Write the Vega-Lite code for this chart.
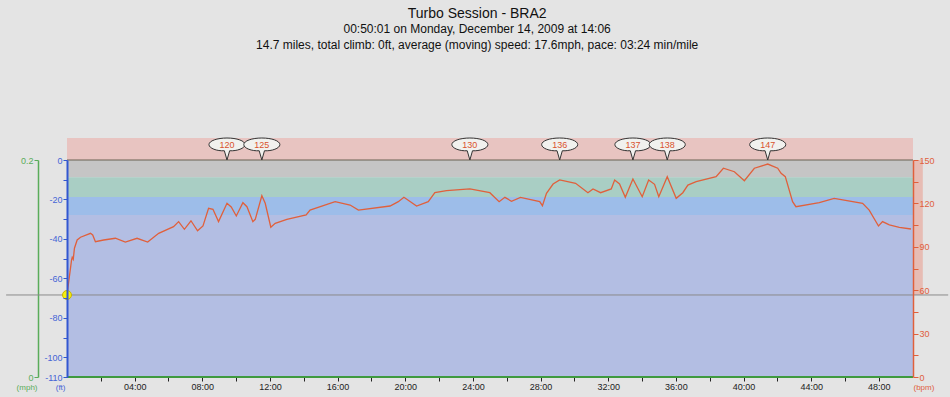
{
  "$schema": "https://vega.github.io/schema/vega-lite/v6.json",
  "width": 846,
  "height": 217,
  "autosize": {"type": "none"},
  "padding": {"left": 67, "top": 160, "right": 37, "bottom": 20},
  "background": "#e4e4e4",
  "config": {"view": {"stroke": null}, "font": "Liberation Sans"},
  "title": {
    "text": "Turbo Session - BRA2",
    "subtitle": ["00:50:01 on Monday, December 14, 2009 at 14:06", "14.7 miles, total climb: 0ft, average (moving) speed: 17.6mph, pace: 03:24 min/mile"],
    "anchor": "middle",
    "frame": "bounds",
    "fontSize": 14,
    "fontWeight": "normal",
    "color": "#111111",
    "subtitleFontSize": 12,
    "subtitleColor": "#111111",
    "subtitlePadding": 3,
    "subtitleLineHeight": 16,
    "offset": 85
  },
  "datasets": {
    "zones": [
      {"zone": "above", "lo": 150, "hi": 165.2},
      {"zone": "z4", "lo": 138, "hi": 150},
      {"zone": "z3", "lo": 124.4, "hi": 138},
      {"zone": "z2", "lo": 112, "hi": 124.4},
      {"zone": "z1", "lo": 0, "hi": 112}
    ],
    "hrrange": [{"lo": 56.7, "hi": 150}],
    "elev": [{"t": 0, "ft": 0}, {"t": 50.02, "ft": 0}],
    "speed": [{"t": 0, "mph": 0}, {"t": 50.02, "mph": 0}],
    "marker": [{"t": 0, "hr": 56.7}],
    "bubbles": [
      {"t": 9.46, "hr": 120}, {"t": 11.52, "hr": 125}, {"t": 23.82, "hr": 130},
      {"t": 29.13, "hr": 136}, {"t": 33.46, "hr": 137}, {"t": 35.49, "hr": 138}, {"t": 41.43, "hr": 147}
    ],
    "hr": [
      {"t": 0.0, "hr": 56.7}, {"t": 0.27, "hr": 80.9}, {"t": 0.31, "hr": 82.7}, {"t": 0.37, "hr": 81.4},
      {"t": 0.44, "hr": 89.0}, {"t": 0.6, "hr": 94.7}, {"t": 0.8, "hr": 96.6}, {"t": 1.39, "hr": 99.3},
      {"t": 1.52, "hr": 98.2}, {"t": 1.68, "hr": 93.5}, {"t": 2.17, "hr": 94.7}, {"t": 2.86, "hr": 95.9},
      {"t": 3.45, "hr": 93.3}, {"t": 4.14, "hr": 95.9}, {"t": 4.77, "hr": 93.3}, {"t": 5.42, "hr": 99.3},
      {"t": 6.3, "hr": 103.9}, {"t": 6.6, "hr": 107.4}, {"t": 6.94, "hr": 102.1}, {"t": 7.33, "hr": 108.0},
      {"t": 7.72, "hr": 101.1}, {"t": 8.04, "hr": 104.4}, {"t": 8.37, "hr": 116.6}, {"t": 8.63, "hr": 115.9},
      {"t": 8.96, "hr": 107.4}, {"t": 9.46, "hr": 120.1}, {"t": 9.71, "hr": 117.5}, {"t": 10.01, "hr": 111.3},
      {"t": 10.4, "hr": 120.5}, {"t": 10.64, "hr": 117.7}, {"t": 10.99, "hr": 107.4}, {"t": 11.13, "hr": 109.0},
      {"t": 11.52, "hr": 125.3}, {"t": 11.72, "hr": 120.1}, {"t": 12.05, "hr": 103.5}, {"t": 12.31, "hr": 106.2},
      {"t": 13.0, "hr": 109.0}, {"t": 14.14, "hr": 112.0}, {"t": 14.37, "hr": 115.4}, {"t": 15.85, "hr": 121.2},
      {"t": 16.74, "hr": 118.9}, {"t": 17.23, "hr": 115.4}, {"t": 19.1, "hr": 118.2}, {"t": 19.59, "hr": 121.2},
      {"t": 19.92, "hr": 124.2}, {"t": 20.67, "hr": 118.2}, {"t": 21.36, "hr": 121.2}, {"t": 21.75, "hr": 127.4},
      {"t": 22.44, "hr": 128.8}, {"t": 23.82, "hr": 130.0}, {"t": 25.0, "hr": 127.4}, {"t": 25.55, "hr": 121.2},
      {"t": 25.89, "hr": 124.2}, {"t": 26.28, "hr": 121.5}, {"t": 26.81, "hr": 124.2}, {"t": 27.95, "hr": 121.2},
      {"t": 28.11, "hr": 118.4}, {"t": 28.35, "hr": 127.0}, {"t": 28.74, "hr": 133.4}, {"t": 29.13, "hr": 136.2},
      {"t": 30.07, "hr": 133.9}, {"t": 30.8, "hr": 127.4}, {"t": 31.1, "hr": 130.0}, {"t": 31.55, "hr": 127.4},
      {"t": 32.18, "hr": 130.0}, {"t": 32.38, "hr": 136.2}, {"t": 32.67, "hr": 133.4}, {"t": 33.01, "hr": 124.2},
      {"t": 33.46, "hr": 136.9}, {"t": 34.01, "hr": 124.6}, {"t": 34.39, "hr": 136.2}, {"t": 34.74, "hr": 133.2},
      {"t": 34.99, "hr": 124.6}, {"t": 35.49, "hr": 138.5}, {"t": 36.02, "hr": 123.5}, {"t": 36.41, "hr": 127.4},
      {"t": 36.71, "hr": 132.7}, {"t": 37.2, "hr": 135.0}, {"t": 38.38, "hr": 138.5}, {"t": 38.81, "hr": 144.3},
      {"t": 39.46, "hr": 141.9}, {"t": 40.05, "hr": 135.7}, {"t": 40.64, "hr": 144.3}, {"t": 41.43, "hr": 147.2},
      {"t": 42.02, "hr": 144.3}, {"t": 42.22, "hr": 140.8}, {"t": 42.47, "hr": 138.5}, {"t": 42.9, "hr": 121.2},
      {"t": 43.1, "hr": 117.7}, {"t": 44.48, "hr": 120.5}, {"t": 45.36, "hr": 123.5}, {"t": 47.04, "hr": 120.1},
      {"t": 47.43, "hr": 115.4}, {"t": 47.98, "hr": 104.4}, {"t": 48.22, "hr": 107.4}, {"t": 48.62, "hr": 105.1},
      {"t": 49.21, "hr": 103.5}, {"t": 49.9, "hr": 102.3}
    ]
  },
  "layer": [
    {
      "data": {"name": "zones"},
      "mark": {"type": "rect"},
      "encoding": {
        "x": {"datum": 0, "type": "quantitative", "scale": {"domain": [0, 50.02], "nice": false, "zero": false},
          "axis": {"orient": "bottom", "values": [2, 4, 6, 8, 10, 12, 14, 16, 18, 20, 22, 24, 26, 28, 30, 32, 34, 36, 38, 40, 42, 44, 46, 48],
            "labelExpr": "datum.value % 4 == 0 ? ((datum.value < 10 ? '0' : '') + datum.value + ':00') : ''",
            "labelOverlap": false, "domain": false, "grid": false, "tickColor": "#222222", "tickSize": 4,
            "labelColor": "#222222", "labelFontSize": 9, "labelPadding": 1, "title": null}},
        "x2": {"datum": 50.02},
        "y": {"field": "lo", "type": "quantitative", "scale": {"domain": [0, 150], "nice": false, "zero": false}, "axis": null},
        "y2": {"field": "hi"},
        "color": {"field": "zone", "type": "nominal", "scale": {"domain": ["above", "z4", "z3", "z2", "z1"], "range": ["#e8c4c1", "#c5c5c5", "#a9cec4", "#9dbde9", "#b3bee3"]}, "legend": null}
      }
    },
    {
      "data": {"name": "hrrange"},
      "mark": {"type": "rect", "color": "#e7bcb4"},
      "encoding": {
        "x": {"datum": 50.02, "type": "quantitative", "scale": {"domain": [0, 50.02], "nice": false, "zero": false},
          "axis": {"orient": "bottom", "values": [2, 4, 6, 8, 10, 12, 14, 16, 18, 20, 22, 24, 26, 28, 30, 32, 34, 36, 38, 40, 42, 44, 46, 48],
            "labelExpr": "datum.value % 4 == 0 ? ((datum.value < 10 ? '0' : '') + datum.value + ':00') : ''",
            "labelOverlap": false, "domain": false, "grid": false, "tickColor": "#222222", "tickSize": 4,
            "labelColor": "#222222", "labelFontSize": 9, "labelPadding": 1, "title": null}},
        "x2": {"datum": 50.6},
        "y": {"field": "lo", "type": "quantitative", "scale": {"domain": [0, 150], "nice": false, "zero": false}, "axis": null},
        "y2": {"field": "hi"}
      }
    },
    {
      "data": {"name": "elev"},
      "mark": {"type": "line", "color": "#6a6352", "strokeWidth": 1},
      "encoding": {
        "x": {"field": "t", "type": "quantitative", "scale": {"domain": [0, 50.02], "nice": false, "zero": false},
          "axis": {"orient": "bottom", "values": [2, 4, 6, 8, 10, 12, 14, 16, 18, 20, 22, 24, 26, 28, 30, 32, 34, 36, 38, 40, 42, 44, 46, 48],
            "labelExpr": "datum.value % 4 == 0 ? ((datum.value < 10 ? '0' : '') + datum.value + ':00') : ''",
            "labelOverlap": false, "domain": false, "grid": false, "tickColor": "#222222", "tickSize": 4,
            "labelColor": "#222222", "labelFontSize": 9, "labelPadding": 1, "title": null}},
        "y": {"field": "ft", "type": "quantitative", "scale": {"domain": [-110, 0], "nice": false, "zero": false},
          "axis": {"orient": "left", "zindex": 1, "values": [0, -10, -20, -30, -40, -50, -60, -70, -80, -90, -100, -110],
            "labelExpr": "(datum.value % 20 == 0 || datum.value == -110) ? ('' + datum.value) : ''",
            "labelOverlap": false, "grid": false, "domainColor": "#3257d1", "domainWidth": 2, "tickColor": "#3257d1", "tickSize": 4,
            "labelColor": "#4565d6", "labelFontSize": 9, "labelPadding": 1,
            "title": "(ft)", "titleAngle": 0, "titleX": -2, "titleY": 227, "titleAlign": "right", "titleBaseline": "middle",
            "titleColor": "#4565d6", "titleFontSize": 8, "titleFontWeight": "normal"}}
      }
    },
    {
      "data": {"name": "speed"},
      "mark": {"type": "line", "color": "#3f9a3f", "strokeWidth": 2},
      "encoding": {
        "x": {"field": "t", "type": "quantitative", "scale": {"domain": [0, 50.02], "nice": false, "zero": false},
          "axis": {"orient": "bottom", "values": [2, 4, 6, 8, 10, 12, 14, 16, 18, 20, 22, 24, 26, 28, 30, 32, 34, 36, 38, 40, 42, 44, 46, 48],
            "labelExpr": "datum.value % 4 == 0 ? ((datum.value < 10 ? '0' : '') + datum.value + ':00') : ''",
            "labelOverlap": false, "domain": false, "grid": false, "tickColor": "#222222", "tickSize": 4,
            "labelColor": "#222222", "labelFontSize": 9, "labelPadding": 1, "title": null}},
        "y": {"field": "mph", "type": "quantitative", "scale": {"domain": [0, 0.2], "nice": false, "zero": false},
          "axis": {"orient": "left", "offset": 29, "values": [0, 0.2], "format": ".1~f", "grid": false,
            "domainColor": "#5aac5a", "domainWidth": 1.5, "tickColor": "#5aac5a", "tickSize": 4,
            "labelColor": "#5aac5a", "labelFontSize": 9, "labelPadding": 1,
            "title": "(mph)", "titleAngle": 0, "titleX": -1, "titleY": 227, "titleAlign": "right", "titleBaseline": "middle",
            "titleColor": "#5aac5a", "titleFontSize": 8, "titleFontWeight": "normal"}}
      }
    },
    {
      "data": {"name": "marker"},
      "mark": {"type": "rule", "color": "#8a8a8a", "strokeWidth": 1},
      "encoding": {
        "x": {"datum": -3.6, "type": "quantitative", "scale": {"domain": [0, 50.02], "nice": false, "zero": false},
          "axis": {"orient": "bottom", "values": [2, 4, 6, 8, 10, 12, 14, 16, 18, 20, 22, 24, 26, 28, 30, 32, 34, 36, 38, 40, 42, 44, 46, 48],
            "labelExpr": "datum.value % 4 == 0 ? ((datum.value < 10 ? '0' : '') + datum.value + ':00') : ''",
            "labelOverlap": false, "domain": false, "grid": false, "tickColor": "#222222", "tickSize": 4,
            "labelColor": "#222222", "labelFontSize": 9, "labelPadding": 1, "title": null}},
        "x2": {"datum": 52.1},
        "y": {"field": "hr", "type": "quantitative", "scale": {"domain": [0, 150], "nice": false, "zero": false}, "axis": null}
      }
    },
    {
      "data": {"name": "hr"},
      "mark": {"type": "line", "color": "#e0603c", "strokeWidth": 1.3},
      "encoding": {
        "x": {"field": "t", "type": "quantitative", "scale": {"domain": [0, 50.02], "nice": false, "zero": false},
          "axis": {"orient": "bottom", "values": [2, 4, 6, 8, 10, 12, 14, 16, 18, 20, 22, 24, 26, 28, 30, 32, 34, 36, 38, 40, 42, 44, 46, 48],
            "labelExpr": "datum.value % 4 == 0 ? ((datum.value < 10 ? '0' : '') + datum.value + ':00') : ''",
            "labelOverlap": false, "domain": false, "grid": false, "tickColor": "#222222", "tickSize": 4,
            "labelColor": "#222222", "labelFontSize": 9, "labelPadding": 1, "title": null}},
        "y": {"field": "hr", "type": "quantitative", "scale": {"domain": [0, 150], "nice": false, "zero": false},
          "axis": {"orient": "right", "zindex": 1, "values": [0, 15, 30, 45, 60, 75, 90, 105, 120, 135, 150],
            "labelExpr": "datum.value % 30 == 0 ? ('' + datum.value) : ''",
            "labelOverlap": false, "grid": false, "domainColor": "#e0603c", "domainWidth": 1.5, "tickColor": "#e0603c", "tickSize": 5,
            "labelColor": "#e0603c", "labelFontSize": 9, "labelPadding": 1,
            "title": "(bpm)", "titleAngle": 0, "titleX": 0, "titleY": 227, "titleAlign": "left", "titleBaseline": "middle",
            "titleColor": "#e0603c", "titleFontSize": 8, "titleFontWeight": "normal"}}
      }
    },
    {
      "data": {"name": "marker"},
      "mark": {"type": "point", "shape": "circle", "filled": true, "size": 80, "fill": "#f4ee10", "stroke": "#c9b400", "strokeWidth": 1, "opacity": 1},
      "encoding": {
        "x": {"field": "t", "type": "quantitative", "scale": {"domain": [0, 50.02], "nice": false, "zero": false},
          "axis": {"orient": "bottom", "values": [2, 4, 6, 8, 10, 12, 14, 16, 18, 20, 22, 24, 26, 28, 30, 32, 34, 36, 38, 40, 42, 44, 46, 48],
            "labelExpr": "datum.value % 4 == 0 ? ((datum.value < 10 ? '0' : '') + datum.value + ':00') : ''",
            "labelOverlap": false, "domain": false, "grid": false, "tickColor": "#222222", "tickSize": 4,
            "labelColor": "#222222", "labelFontSize": 9, "labelPadding": 1, "title": null}},
        "y": {"field": "hr", "type": "quantitative", "scale": {"domain": [0, 150], "nice": false, "zero": false}, "axis": null}
      }
    },
    {
      "data": {"name": "bubbles"},
      "mark": {"type": "point", "shape": "M -0.12 -0.42 L 0 0 L 0.12 -0.42 C 0.45 -0.4 0.82 -0.53 0.82 -0.7 C 0.82 -0.87 0.45 -1 0 -1 C -0.45 -1 -0.82 -0.87 -0.82 -0.7 C -0.82 -0.53 -0.45 -0.4 -0.12 -0.42 Z", "size": 1936, "filled": true, "fill": "#f1f1ee", "stroke": "#333333", "strokeWidth": 1, "opacity": 1},
      "encoding": {
        "x": {"field": "t", "type": "quantitative", "scale": {"domain": [0, 50.02], "nice": false, "zero": false},
          "axis": {"orient": "bottom", "values": [2, 4, 6, 8, 10, 12, 14, 16, 18, 20, 22, 24, 26, 28, 30, 32, 34, 36, 38, 40, 42, 44, 46, 48],
            "labelExpr": "datum.value % 4 == 0 ? ((datum.value < 10 ? '0' : '') + datum.value + ':00') : ''",
            "labelOverlap": false, "domain": false, "grid": false, "tickColor": "#222222", "tickSize": 4,
            "labelColor": "#222222", "labelFontSize": 9, "labelPadding": 1, "title": null}},
        "y": {"datum": 150, "type": "quantitative", "scale": {"domain": [0, 150], "nice": false, "zero": false}, "axis": null}
      }
    },
    {
      "data": {"name": "bubbles"},
      "mark": {"type": "text", "color": "#d9512c", "fontSize": 9, "dy": -15, "baseline": "middle", "align": "center"},
      "encoding": {
        "x": {"field": "t", "type": "quantitative", "scale": {"domain": [0, 50.02], "nice": false, "zero": false},
          "axis": {"orient": "bottom", "values": [2, 4, 6, 8, 10, 12, 14, 16, 18, 20, 22, 24, 26, 28, 30, 32, 34, 36, 38, 40, 42, 44, 46, 48],
            "labelExpr": "datum.value % 4 == 0 ? ((datum.value < 10 ? '0' : '') + datum.value + ':00') : ''",
            "labelOverlap": false, "domain": false, "grid": false, "tickColor": "#222222", "tickSize": 4,
            "labelColor": "#222222", "labelFontSize": 9, "labelPadding": 1, "title": null}},
        "y": {"datum": 150, "type": "quantitative", "scale": {"domain": [0, 150], "nice": false, "zero": false}, "axis": null},
        "text": {"field": "hr", "type": "quantitative"}
      }
    }
  ],
  "resolve": {"scale": {"y": "independent"}}
}
